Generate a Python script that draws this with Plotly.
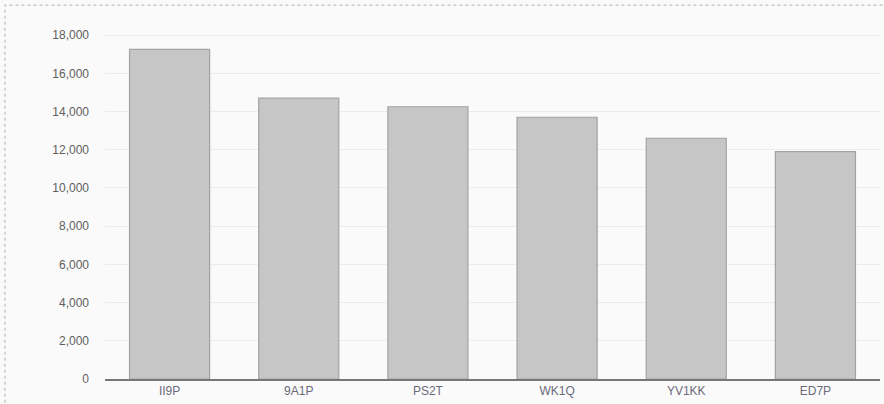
import plotly.graph_objects as go

categories = ["II9P", "9A1P", "PS2T", "WK1Q", "YV1KK", "ED7P"]
values = [17250, 14700, 14250, 13700, 12600, 11900]
tick_vals = [0, 2000, 4000, 6000, 8000, 10000, 12000, 14000, 16000, 18000]
tick_text = ["0", "2,000", "4,000", "6,000", "8,000", "10,000", "12,000", "14,000", "16,000", "18,000"]

fig = go.Figure(go.Bar(
    x=categories, y=values,
    marker=dict(color="#c6c6c6", line=dict(color="#a3a3a3", width=1.2)),
    width=0.62,
    hoverinfo="skip",
))

fig.update_layout(
    width=884, height=404,
    margin=dict(l=105, r=4, t=16, b=25),
    paper_bgcolor="#fafafa", plot_bgcolor="#fafafa",
    font=dict(family="Liberation Sans, Arial, sans-serif", size=12, color="#666"),
    showlegend=False,
    bargap=0.38,
    shapes=[dict(type="rect", xref="paper", yref="paper",
                 x0=-0.129, x1=1.02, y0=-0.2, y1=1.030,
                 line=dict(color="#bdbdbd", width=1.2, dash="dot"),
                 fillcolor="rgba(0,0,0,0)", layer="below")],
)
fig.update_yaxes(range=[0, 19000], tickvals=tick_vals, ticktext=tick_text,
                 gridcolor="#ececec", gridwidth=1, zeroline=False,
                 showline=False, ticks="", ticklabelstandoff=15,
                 tickfont=dict(size=12, color="#5f5f5f"))
fig.update_xaxes(showline=True, linecolor="#777777", linewidth=2,
                 ticks="", tickfont=dict(size=12, color="#6a6a7a"),
                 showgrid=False)

fig.write_html("out.html", config={"displayModeBar": False},
               post_script="document.body.style.margin='0';document.body.style.overflow='hidden';")
